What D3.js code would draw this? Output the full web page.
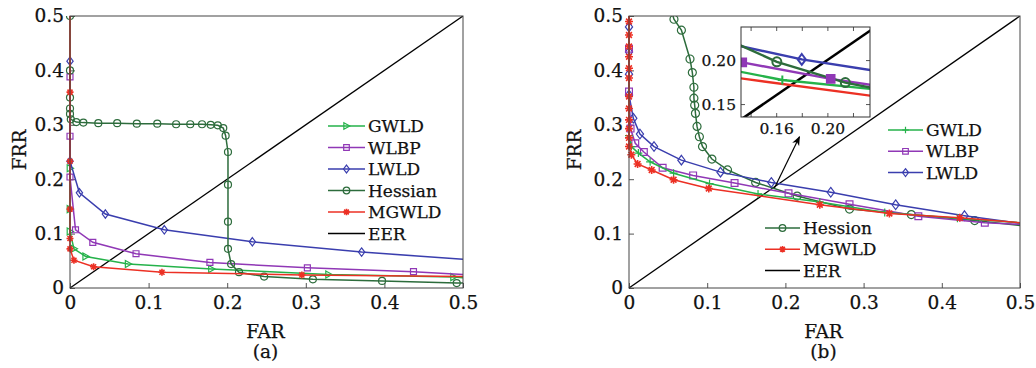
<!DOCTYPE html>
<html>
<head>
<meta charset="utf-8">
<script src="https://cdn.jsdelivr.net/npm/d3@7"></script>
<style>
  body { margin: 0; background: #fff; }
  text { font-family: "DejaVu Serif", serif; fill: #111; stroke: #111; stroke-width: 0.25px; }
</style>
</head>
<body>
<div id="chart"></div>
<script>
// ---- data ----
const xTicks = [0, 0.1, 0.2, 0.3, 0.4, 0.5];
const yTicks = [0, 0.1, 0.2, 0.3, 0.4, 0.5];
const insetXTicks = [0.14, 0.16, 0.18, 0.20, 0.22];
const insetXLabels = [0.16, 0.20];
const insetYTicks = [0.15, 0.20];

// panel (a): [FAR, FRR]
const aGWLD = [[0,0.22],[0,0.145],[0,0.104],[0.005,0.072],[0.02,0.058],[0.074,0.044],[0.18,0.035],[0.329,0.025],[0.488,0.02],[0.5,0.019]];
const aWLBP = [[0,0.388],[0,0.279],[0,0.204],[0.007,0.107],[0.029,0.084],[0.084,0.063],[0.178,0.047],[0.302,0.037],[0.437,0.030],[0.5,0.025]];
const aLWLD = [[0,0.417],[0,0.233],[0.012,0.175],[0.045,0.136],[0.12,0.107],[0.232,0.085],[0.371,0.066],[0.5,0.053]];
const aHessian = [[0,0.5],[0,0.40],[0,0.35],[0,0.33],[0,0.32],[0.001,0.31],[0.008,0.305],[0.017,0.304],[0.036,0.303],[0.06,0.303],[0.085,0.302],[0.111,0.302],[0.135,0.301],[0.153,0.301],[0.168,0.301],[0.179,0.300],[0.188,0.299],[0.195,0.294],[0.198,0.28],[0.201,0.25],[0.201,0.19],[0.201,0.122],[0.201,0.072],[0.205,0.044],[0.215,0.029],[0.247,0.021],[0.309,0.016],[0.397,0.013],[0.492,0.009],[0.5,0.009]];
const aMGWLD = [[0,0.53],[0,0.36],[0,0.233],[0,0.145],[0,0.091],[0,0.072],[0.005,0.051],[0.03,0.039],[0.117,0.029],[0.295,0.024],[0.5,0.021]];

// panel (b)
const bGWLD = [[0,0.53],[0,0.28],[0.003,0.26],[0.012,0.248],[0.027,0.232],[0.057,0.211],[0.103,0.192],[0.165,0.173],[0.244,0.158],[0.327,0.139],[0.42,0.128],[0.5,0.12]];
const bWLBP = [[0,0.53],[0,0.44],[0,0.361],[0.002,0.293],[0.008,0.266],[0.019,0.25],[0.043,0.221],[0.082,0.207],[0.135,0.193],[0.204,0.174],[0.282,0.154],[0.37,0.132],[0.455,0.12],[0.5,0.117]];
const bLWLD = [[0,0.53],[0,0.48],[0,0.434],[0,0.393],[0,0.355],[0.0055,0.312],[0.014,0.283],[0.032,0.26],[0.067,0.235],[0.117,0.213],[0.182,0.194],[0.258,0.176],[0.341,0.153],[0.429,0.133],[0.5,0.119]];
const bHessian = [[0.05,0.53],[0.0575,0.494],[0.067,0.474],[0.078,0.421],[0.081,0.396],[0.083,0.369],[0.083,0.349],[0.084,0.336],[0.085,0.321],[0.087,0.297],[0.09,0.278],[0.094,0.26],[0.106,0.237],[0.126,0.217],[0.162,0.194],[0.215,0.169],[0.282,0.145],[0.361,0.135],[0.442,0.124],[0.5,0.115]];
const bMGWLD = [[0,0.53],[0,0.49],[0,0.465],[0,0.444],[0,0.425],[0,0.404],[0,0.386],[0,0.352],[0,0.33],[0,0.309],[0,0.293],[0,0.276],[0,0.26],[0.003,0.245],[0.011,0.228],[0.029,0.217],[0.057,0.199],[0.102,0.183],[0.244,0.153],[0.333,0.137],[0.423,0.129],[0.5,0.12]];

// zoomed inset of panel (b)
const insetGWLD = [[0.13,0.1873],[0.1648,0.1774],[0.235,0.167]];
const insetWLBP = [[0.1335,0.1974],[0.2026,0.1786],[0.235,0.1715]];
const insetLWLD = [[0.13,0.2166],[0.18,0.2008],[0.235,0.1884]];
const insetHessian = [[0.13,0.218],[0.1605,0.198],[0.214,0.1744],[0.235,0.1683]];
const insetMGWLD = [[0.13,0.1797],[0.235,0.1593]];
const eer = [[0,0],[0.5,0.5]];
const arrowFrom = [0.186, 0.184];
const arrowTo = [0.218, 0.278];

const colors = {
  GWLD: "#25b24a", WLBP: "#9038b6", LWLD: "#3a3eae",
  Hessian: "#2d6c3c", MGWLD: "#ec3024", EER: "#000"
};

// ---- helpers ----
function markerPath(type, r) {
  if (type === "circle") return `M${r},0A${r},${r} 0 1,1 ${-r},0A${r},${r} 0 1,1 ${r},0Z`;
  if (type === "square") { const s = r * 0.85; return `M${-s},${-s}h${2*s}v${2*s}h${-2*s}Z`; }
  if (type === "diamond") return `M0,${-r*1.2}L${r*0.9},0L0,${r*1.2}L${-r*0.9},0Z`;
  if (type === "triangle") return `M${-r*0.8},${-r}L${r},0L${-r*0.8},${r}Z`;
  if (type === "plus") return `M0,${-r}V${r}M${-r},0H${r}`;
  if (type === "star") {
    const d = r * 0.72;
    return `M0,${-r}V${r}M${-r},0H${r}M${-d},${-d}L${d},${d}M${-d},${d}L${d},${-d}`;
  }
  return "";
}

const svg = d3.select("#chart").append("svg")
  .attr("width", 1036).attr("height", 368);

function drawPanel(opts) {
  const w = opts.width, h = opts.height;
  const x = d3.scaleLinear().domain([0, 0.5]).range([0, w]);
  const y = d3.scaleLinear().domain([0, 0.5]).range([h, 0]);
  const g = svg.append("g").attr("transform", `translate(${opts.left},${opts.top})`);

  g.append("clipPath").attr("id", opts.id + "-clip")
    .append("rect").attr("x", -8).attr("y", 0).attr("width", w + 8).attr("height", h + 8);

  const fmt = d => d === 0 ? "0" : d3.format(".1f")(d);
  const xAxis = g.append("g").attr("transform", `translate(0,${h})`)
    .call(d3.axisBottom(x).tickValues(xTicks).tickFormat(fmt).tickSize(-5).tickPadding(8));
  const yAxis = g.append("g")
    .call(d3.axisLeft(y).tickValues(yTicks).tickFormat(fmt).tickSize(-5).tickPadding(6));
  [xAxis, yAxis].forEach(a => {
    a.select(".domain").remove();
    a.selectAll("line").attr("stroke", "#555");
    a.selectAll("text").attr("font-size", 18.5).attr("font-family", "DejaVu Serif").attr("fill", "#111");
  });

  const plot = g.append("g").attr("clip-path", `url(#${opts.id}-clip)`);
  const line = d3.line().x(d => x(d[0])).y(d => y(d[1]));

  plot.append("path").datum(eer).attr("d", line)
    .attr("fill", "none").attr("stroke", "#000").attr("stroke-width", 1.3);

  opts.series.forEach(s => {
    plot.append("path").datum(s.data).attr("d", line)
      .attr("fill", "none").attr("stroke", colors[s.key]).attr("stroke-width", 1.5);
    plot.selectAll(null).data(s.data.filter(d => d[0] < 0.5)).enter().append("path")
      .attr("transform", d => `translate(${x(d[0])},${y(d[1])})`)
      .attr("d", markerPath(s.marker, opts.r))
      .attr("fill", "none").attr("stroke", colors[s.key])
      .attr("stroke-width", s.marker === "star" ? 1.6 : 1.2);
  });

  g.append("rect").attr("width", w).attr("height", h)
    .attr("fill", "none").attr("stroke", "#444").attr("stroke-width", 1);

  g.append("text").attr("transform", `translate(${opts.yLabelX},${h / 2 - 2}) rotate(-90)`)
    .attr("text-anchor", "middle").attr("dy", "0.35em").attr("font-size", 18.5).text("FRR");
  g.append("text").attr("x", w / 2 - 1).attr("y", 322)
    .attr("text-anchor", "middle").attr("font-size", 18.5).text("FAR");
  g.append("text").attr("x", w / 2 - 1).attr("y", 342)
    .attr("text-anchor", "middle").attr("font-size", 18.5).text(opts.tag);

  opts.legends.forEach(lg => {
    lg.items.forEach((it, i) => {
      const ly = lg.y + i * lg.step;
      const lx = lg.x;
      g.append("line").attr("x1", lx).attr("x2", lx + lg.len).attr("y1", ly).attr("y2", ly)
        .attr("stroke", colors[it.key]).attr("stroke-width", 1.5);
      if (it.marker) {
        g.append("path").attr("transform", `translate(${lx + lg.len / 2},${ly})`)
          .attr("d", markerPath(it.marker, 3.3)).attr("fill", "none")
          .attr("stroke", colors[it.key]).attr("stroke-width", it.marker === "star" ? 1.6 : 1.2);
      }
      g.append("text").attr("x", lx + lg.len + 3).attr("y", ly).attr("dy", "0.36em")
        .attr("font-size", 17).text(it.label);
    });
  });

  return { g, x, y };
}

// ---- panel (a) ----
drawPanel({
  id: "pa", left: 70, top: 16, width: 393, height: 272, r: 3.5, tag: "(a)", yLabelX: -50,
  series: [
    { key: "GWLD", data: aGWLD, marker: "triangle" },
    { key: "WLBP", data: aWLBP, marker: "square" },
    { key: "LWLD", data: aLWLD, marker: "diamond" },
    { key: "Hessian", data: aHessian, marker: "circle" },
    { key: "MGWLD", data: aMGWLD, marker: "star" }
  ],
  legends: [{
    x: 258, y: 110, step: 21.5, len: 37,
    items: [
      { key: "GWLD", label: "GWLD", marker: "triangle" },
      { key: "WLBP", label: "WLBP", marker: "square" },
      { key: "LWLD", label: "LWLD", marker: "diamond" },
      { key: "Hessian", label: "Hessian", marker: "circle" },
      { key: "MGWLD", label: "MGWLD", marker: "star" },
      { key: "EER", label: "EER" }
    ]
  }]
});

// ---- panel (b) ----
const pb = drawPanel({
  id: "pb", left: 629, top: 16, width: 391, height: 272, r: 4, tag: "(b)", yLabelX: -54,
  series: [
    { key: "Hessian", data: bHessian, marker: "circle" },
    { key: "LWLD", data: bLWLD, marker: "diamond" },
    { key: "WLBP", data: bWLBP, marker: "square" },
    { key: "GWLD", data: bGWLD, marker: "plus" },
    { key: "MGWLD", data: bMGWLD, marker: "star" }
  ],
  legends: [
    { x: 259, y: 114, step: 21.3, len: 35,
      items: [
        { key: "GWLD", label: "GWLD", marker: "plus" },
        { key: "WLBP", label: "WLBP", marker: "square" },
        { key: "LWLD", label: "LWLD", marker: "diamond" }
      ] },
    { x: 136, y: 212, step: 21.2, len: 35,
      items: [
        { key: "Hessian", label: "Hession", marker: "circle" },
        { key: "MGWLD", label: "MGWLD", marker: "star" },
        { key: "EER", label: "EER" }
      ] }
  ]
});

// arrow pointing to the inset
pb.g.append("defs").append("marker").attr("id", "arrowhead")
  .attr("viewBox", "0 0 10 10").attr("refX", 9).attr("refY", 5)
  .attr("markerWidth", 8).attr("markerHeight", 8).attr("orient", "auto")
  .append("path").attr("d", "M0,1L10,5L0,9L3,5Z").attr("fill", "#000");
pb.g.append("line")
  .attr("x1", pb.x(arrowFrom[0])).attr("y1", pb.y(arrowFrom[1]))
  .attr("x2", pb.x(arrowTo[0])).attr("y2", pb.y(arrowTo[1]))
  .attr("stroke", "#000").attr("stroke-width", 1.2).attr("marker-end", "url(#arrowhead)");

// ---- inset ----
(function () {
  const iw = 129, ih = 90;
  const ig = svg.append("g").attr("transform", "translate(741,27)");
  const ix = d3.scaleLinear().domain([0.1325, 0.2333]).range([0, iw]);
  const iy = d3.scaleLinear().domain([0.1353, 0.2376]).range([ih, 0]);
  ig.append("rect").attr("width", iw).attr("height", ih).attr("fill", "#fff");
  ig.append("clipPath").attr("id", "inset-clip")
    .append("rect").attr("width", iw).attr("height", ih);

  const bx = ig.append("g").attr("transform", `translate(0,${ih})`)
    .call(d3.axisBottom(ix).tickValues(insetXTicks).tickSize(-4).tickPadding(6)
      .tickFormat(d => insetXLabels.some(v => Math.abs(v - d) < 1e-9) ? d3.format(".2f")(d) : ""));
  const tx = ig.append("g")
    .call(d3.axisTop(ix).tickValues(insetXTicks).tickSize(-4).tickFormat(""));
  const ly = ig.append("g")
    .call(d3.axisLeft(iy).tickValues(insetYTicks).tickSize(-4).tickPadding(5).tickFormat(d3.format(".2f")));
  const ry = ig.append("g").attr("transform", `translate(${iw},0)`)
    .call(d3.axisRight(iy).tickValues(insetYTicks).tickSize(-4).tickFormat(""));
  [bx, tx, ly, ry].forEach(a => {
    a.select(".domain").remove();
    a.selectAll("line").attr("stroke", "#555");
    a.selectAll("text").attr("font-size", 15.5).attr("font-family", "DejaVu Serif").attr("fill", "#111");
  });

  const plot = ig.append("g").attr("clip-path", "url(#inset-clip)");
  const line = d3.line().x(d => ix(d[0])).y(d => iy(d[1]));
  plot.append("path").datum(eer).attr("d", line)
    .attr("fill", "none").attr("stroke", "#000").attr("stroke-width", 2.6);
  const list = [
    { key: "MGWLD", data: insetMGWLD, marker: "star" },
    { key: "GWLD", data: insetGWLD, marker: "plus" },
    { key: "WLBP", data: insetWLBP, marker: "square" },
    { key: "LWLD", data: insetLWLD, marker: "diamond" },
    { key: "Hessian", data: insetHessian, marker: "circle" }
  ];
  list.forEach(s => {
    plot.append("path").datum(s.data).attr("d", line)
      .attr("fill", "none").attr("stroke", colors[s.key]).attr("stroke-width", 2.4);
  });
  list.forEach(s => {
    plot.selectAll(null)
      .data(s.data.filter(d => d[0] > ix.domain()[0] && d[0] < ix.domain()[1]))
      .enter().append("path")
      .attr("transform", d => `translate(${ix(d[0])},${iy(d[1])})`)
      .attr("d", markerPath(s.marker, 4.5))
      .attr("fill", s.marker === "square" ? colors[s.key] : "none")
      .attr("stroke", colors[s.key]).attr("stroke-width", 2);
  });
  ig.append("rect").attr("width", iw).attr("height", ih)
    .attr("fill", "none").attr("stroke", "#333").attr("stroke-width", 1);
})();
</script>
</body>
</html>
